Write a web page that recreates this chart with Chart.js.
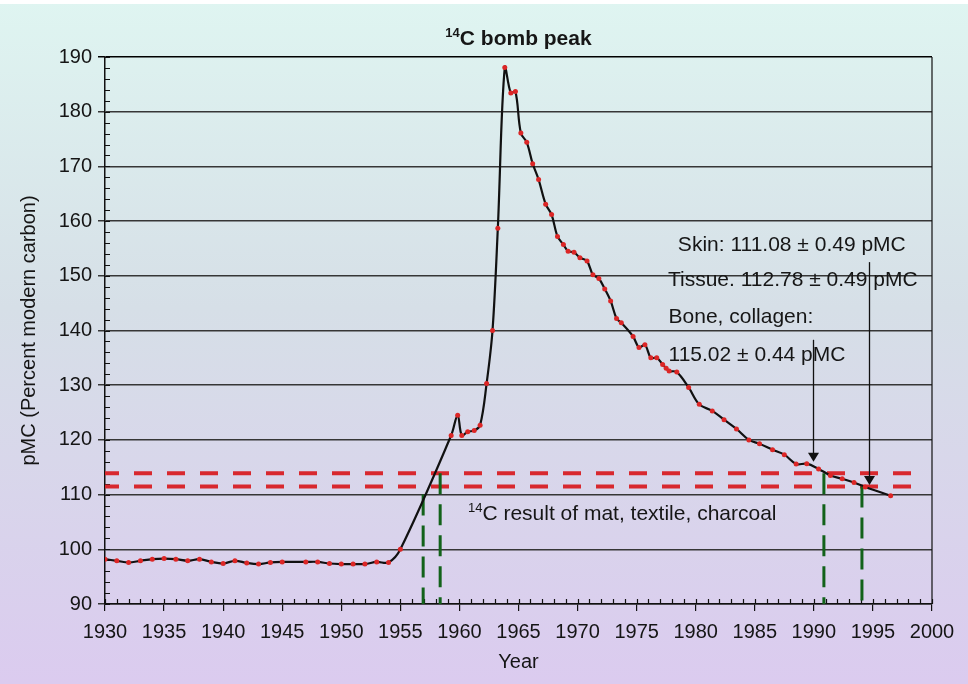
<!DOCTYPE html>
<html>
<head>
<meta charset="utf-8">
<title>14C bomb peak</title>
<script src="https://cdn.jsdelivr.net/npm/chart.js@4.4.1/dist/chart.umd.min.js"></script>
<style>
  html, body { margin: 0; padding: 0; background: #fff; }
  #wrap { width: 968px; height: 684px; }
</style>
</head>
<body>
<div id="wrap"><canvas id="bomb-chart" width="968" height="684"></canvas></div>
<script>
const FONT = "'Liberation Sans', Arial, Helvetica, sans-serif";

// atmospheric 14C record (year, pMC)
const years = [
  1930, 1931, 1932, 1933, 1934, 1935, 1936, 1937, 1938, 1939,
  1940, 1941, 1942, 1943, 1944, 1945, 1947, 1948, 1949, 1950,
  1951, 1952, 1953, 1954, 1955,
  1959.3, 1959.85, 1960.2, 1960.7, 1961.25, 1961.75, 1962.3, 1962.8, 1963.25, 1963.84,
  1964.35, 1964.74, 1965.2, 1965.7, 1966.2, 1966.7, 1967.3, 1967.8, 1968.3, 1968.8,
  1969.2, 1969.7, 1970.2, 1970.8, 1971.3, 1971.8, 1972.3, 1972.8, 1973.3, 1973.7,
  1974.7, 1975.2, 1975.7, 1976.2, 1976.7, 1977.2, 1977.5, 1977.75, 1978.4, 1979.4,
  1980.3, 1981.4, 1982.4, 1983.45, 1984.5, 1985.4, 1986.5, 1987.5, 1988.5, 1989.4,
  1990.4, 1991.4, 1992.4, 1993.4, 1994.35, 1996.5
];
const pmc = [
  98.2, 97.9, 97.6, 97.9, 98.2, 98.3, 98.2, 97.9, 98.2, 97.7,
  97.4, 97.9, 97.5, 97.3, 97.6, 97.7, 97.7, 97.7, 97.4, 97.3,
  97.3, 97.3, 97.7, 97.6, 100.0,
  120.8, 124.5, 120.8, 121.5, 121.7, 122.7, 130.3, 140.0, 158.7, 188.1,
  183.4, 183.7, 176.1, 174.4, 170.5, 167.6, 163.1, 161.2, 157.2, 155.7,
  154.5, 154.3, 153.3, 152.7, 150.2, 149.5, 147.6, 145.4, 142.2, 141.4,
  138.9, 136.9, 137.4, 135.0, 135.0, 133.8, 133.1, 132.6, 132.4, 129.6,
  126.5, 125.3, 123.7, 122.0, 120.0, 119.3, 118.2, 117.3, 115.6, 115.65,
  114.7, 113.5, 112.9, 112.2, 111.4, 109.8
];

// axis ticks
const xTickValues = [1930, 1935, 1940, 1945, 1950, 1955, 1960, 1965, 1970, 1975, 1980, 1985, 1990, 1995, 2000];
const yTickValues = [90, 100, 110, 120, 130, 140, 150, 160, 170, 180, 190];

// 14C result band of mat, textile, charcoal
const resultLevels = [113.9, 111.5];
const resultSpan = [1930, 1999.2];

// dashed drops to the calendar axis
const dropYears = [1956.93, 1958.37, 1990.85, 1994.07];
const dropTops = [110, 113.9, 113.9, 111.5];

// sample labels (left x in years, baseline in pMC)
const noteLines = [
  { text: "Skin: 111.08 \u00b1 0.49 pMC", x: 1978.49, y: 154.5 },
  { text: "Tissue. 112.78 \u00b1 0.49 pMC", x: 1977.65, y: 148.2 },
  { text: "Bone, collagen:", x: 1977.7, y: 141.4 },
  { text: "115.02 \u00b1 0.44 pMC", x: 1977.7, y: 134.4 }
];
const arrowX = [1989.9, 1994.7];
const arrowFrom = [138.3, 152.5];
const arrowTo = [116.0, 111.75];

const curve = years.map((yr, i) => ({ x: yr, y: pmc[i] }));

const datasets = [{
  label: "pMC",
  data: curve,
  borderColor: "#111111",
  borderWidth: 2.2,
  tension: 0.35,
  pointRadius: 2.5,
  pointBorderWidth: 0,
  pointBackgroundColor: "#dc2626",
  order: 0
}];

resultLevels.forEach((lvl) => {
  datasets.push({
    data: [{ x: resultSpan[0], y: lvl }, { x: resultSpan[1], y: lvl }],
    borderColor: "#d8282e",
    borderWidth: 4,
    borderDash: [18, 15],
    borderDashOffset: 4,
    pointRadius: 0,
    tension: 0,
    order: 2
  });
});

dropYears.forEach((yr, i) => {
  datasets.push({
    data: [{ x: yr, y: dropTops[i] }, { x: yr, y: 90 }],
    borderColor: "#12621a",
    borderWidth: 3,
    borderDash: [21, 10],
    pointRadius: 0,
    tension: 0,
    order: 1
  });
});

const backdrop = {
  id: "backdrop",
  beforeDraw(chart) {
    const { ctx, width, height } = chart;
    const g = ctx.createLinearGradient(0, 0, 0, height);
    g.addColorStop(0, "#dff5f1");
    g.addColorStop(0.45, "#d6dfe7");
    g.addColorStop(1, "#dbcbef");
    ctx.save();
    ctx.fillStyle = "#ffffff";
    ctx.fillRect(0, 0, width, height);
    ctx.fillStyle = g;
    ctx.fillRect(0, 4, width, height - 4);
    ctx.restore();
  }
};

// small inward ticks every year / every 2 pMC, plus the right frame
const minorTicks = {
  id: "minorTicks",
  beforeDatasetsDraw(chart) {
    const { ctx, chartArea } = chart;
    const xs = chart.scales.x, ys = chart.scales.y;
    ctx.save();
    ctx.strokeStyle = "#111";
    ctx.lineWidth = 1.2;
    ctx.beginPath();
    for (let yr = 1930; yr <= 2000; yr++) {
      const px = Math.round(xs.getPixelForValue(yr)) + 0.5;
      ctx.moveTo(px, chartArea.bottom);
      ctx.lineTo(px, chartArea.bottom - 5);
    }
    for (let v = 90; v <= 190; v += 2) {
      const py = Math.round(ys.getPixelForValue(v)) + 0.5;
      ctx.moveTo(chartArea.left, py);
      ctx.lineTo(chartArea.left + 5, py);
    }
    ctx.moveTo(chartArea.right, chartArea.top);
    ctx.lineTo(chartArea.right, chartArea.bottom);
    ctx.stroke();
    ctx.restore();
  }
};

function supText(ctx, sup, main, x, y, size, weight) {
  ctx.font = weight + " " + Math.round(size * 0.62) + "px " + FONT;
  const w1 = ctx.measureText(sup).width;
  ctx.fillText(sup, x, y - size * 0.38);
  ctx.font = weight + " " + size + "px " + FONT;
  ctx.fillText(main, x + w1, y);
}

const notes = {
  id: "notes",
  afterDatasetsDraw(chart) {
    const { ctx, chartArea } = chart;
    const xs = chart.scales.x, ys = chart.scales.y;
    ctx.save();
    ctx.fillStyle = "#161616";
    ctx.textAlign = "left";
    ctx.textBaseline = "alphabetic";

    // title
    ctx.font = "bold 13px " + FONT;
    const sw = ctx.measureText("14").width;
    ctx.font = "bold 21px " + FONT;
    const mw = ctx.measureText("C bomb peak").width;
    const cx = (chartArea.left + chartArea.right) / 2;
    supText(ctx, "14", "C bomb peak", cx - (sw + mw) / 2, chartArea.top - 12, 21, "bold");

    // band label
    supText(ctx, "14", "C result of mat, textile, charcoal",
      xs.getPixelForValue(1960.72), ys.getPixelForValue(105.4), 21, "normal");

    ctx.font = "21px " + FONT;
    noteLines.forEach((n) => {
      ctx.fillText(n.text, xs.getPixelForValue(n.x), ys.getPixelForValue(n.y));
    });

    // arrows down to the curve
    ctx.strokeStyle = "#111";
    ctx.lineWidth = 1.3;
    arrowX.forEach((ax, i) => {
      const px = Math.round(xs.getPixelForValue(ax)) + 0.5;
      const top = ys.getPixelForValue(arrowFrom[i]);
      const tip = ys.getPixelForValue(arrowTo[i]);
      ctx.beginPath();
      ctx.moveTo(px, top);
      ctx.lineTo(px, tip - 7);
      ctx.stroke();
      ctx.beginPath();
      ctx.moveTo(px - 5.5, tip - 9);
      ctx.lineTo(px + 5.5, tip - 9);
      ctx.lineTo(px, tip);
      ctx.closePath();
      ctx.fillStyle = "#111";
      ctx.fill();
    });
    ctx.restore();
  }
};

const ctx = document.getElementById("bomb-chart").getContext("2d");
new Chart(ctx, {
  type: "line",
  data: { datasets: datasets },
  options: {
    responsive: false,
    animation: false,
    layout: { padding: { top: 57, right: 36, left: 0, bottom: 0 } },
    plugins: {
      legend: { display: false },
      tooltip: { enabled: false },
      title: { display: false }
    },
    scales: {
      x: {
        type: "linear",
        min: 1930,
        max: 2000,
        afterBuildTicks: (s) => { s.ticks = xTickValues.map((v) => ({ value: v })); },
        afterFit: (s) => { s.height = 80; },
        ticks: {
          autoSkip: false,
          maxRotation: 0,
          padding: 9,
          color: "#151515",
          font: { size: 20, family: FONT },
          callback: (v) => String(v)
        },
        grid: { drawOnChartArea: false, drawTicks: true, tickLength: 7, color: "#111", lineWidth: 1.2 },
        border: { color: "#111", width: 1.5 },
        title: {
          display: true,
          text: "Year",
          color: "#151515",
          font: { size: 20, family: FONT },
          padding: { top: 0, bottom: 10 }
        }
      },
      y: {
        min: 90,
        max: 190,
        afterBuildTicks: (s) => { s.ticks = yTickValues.map((v) => ({ value: v })); },
        afterFit: (s) => { s.width = 105; },
        ticks: {
          padding: 6,
          color: "#151515",
          font: { size: 20, family: FONT }
        },
        grid: {
          drawTicks: true,
          tickLength: 7,
          lineWidth: 1.5,
          color: (c) => (c.tick && c.tick.value === 190 ? "#000" : "#363636")
        },
        border: { color: "#111", width: 1.5 },
        title: {
          display: true,
          text: "pMC (Percent modern carbon)",
          color: "#151515",
          font: { size: 20, family: FONT },
          padding: { top: 17, bottom: 0 }
        }
      }
    }
  },
  plugins: [backdrop, minorTicks, notes]
});
</script>
</body>
</html>
